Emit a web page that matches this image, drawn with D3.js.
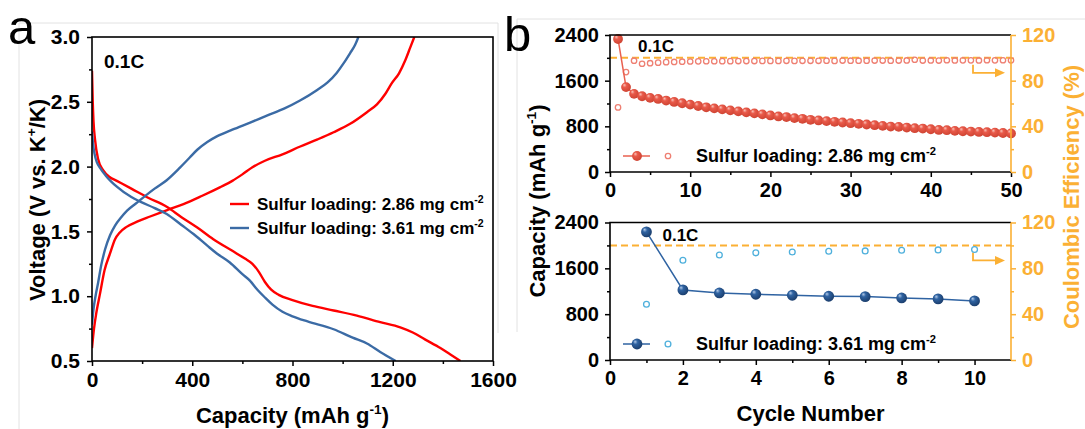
<!DOCTYPE html>
<html>
<head>
<meta charset="utf-8">
<script src="https://cdn.jsdelivr.net/npm/d3@7"></script>
<style>
  html, body { margin: 0; padding: 0; background: #fff; }
  svg { display: block; font-family: Arial, "Liberation Sans", Helvetica, sans-serif; }
</style>
</head>
<body>
<svg id="fig" width="1085" height="429"></svg>
<script>
// ---------- Panel (a): galvanostatic profiles at 0.1C ----------
const capTicksA = [0, 400, 800, 1200, 1600];
const capMinorA = [200, 600, 1000, 1400];
const voltTicks = [0.5, 1.0, 1.5, 2.0, 2.5, 3.0];
const voltMinor = [0.75, 1.25, 1.75, 2.25, 2.75];

// [capacity (mAh/g), voltage (V)]
const dis286 = [[0,2.74],[3,2.5],[6,2.35],[12,2.21],[24,2.06],[45,1.97],[70,1.92],[99,1.89],[157,1.83],[224,1.76],[298,1.69],[357,1.61],[420,1.53],[484,1.44],[560,1.35],[610,1.29],[640,1.25],[665,1.19],[690,1.11],[715,1.05],[745,1.01],[800,0.97],[880,0.925],[964,0.89],[1057,0.85],[1150,0.8],[1230,0.76],[1280,0.72],[1330,0.665],[1390,0.6],[1430,0.55],[1470,0.5]];
const cha286 = [[0,0.6],[8,0.75],[18,0.88],[32,1.02],[50,1.2],[72,1.33],[92,1.44],[110,1.49],[138,1.535],[180,1.575],[232,1.615],[300,1.665],[365,1.71],[440,1.775],[510,1.84],[560,1.89],[600,1.94],[640,1.995],[690,2.045],[760,2.095],[831,2.155],[900,2.21],[964,2.265],[1030,2.33],[1097,2.42],[1137,2.48],[1170,2.56],[1195,2.64],[1225,2.72],[1250,2.82],[1270,2.92],[1286,3.0]];
const dis361 = [[0,2.27],[4,2.18],[10,2.1],[20,2.03],[32,1.99],[55,1.93],[99,1.845],[157,1.765],[192,1.73],[250,1.68],[298,1.635],[357,1.55],[405,1.48],[460,1.39],[498,1.33],[550,1.26],[600,1.17],[630,1.12],[660,1.05],[690,0.99],[720,0.935],[760,0.88],[800,0.845],[860,0.805],[964,0.745],[1040,0.68],[1097,0.635],[1150,0.57],[1212,0.5]];
const cha361 = [[0,0.78],[6,0.9],[14,1.0],[24,1.1],[37,1.24],[52,1.36],[72,1.47],[92,1.545],[115,1.605],[140,1.66],[175,1.715],[210,1.77],[250,1.83],[298,1.895],[350,1.99],[390,2.07],[420,2.13],[460,2.19],[500,2.235],[560,2.285],[631,2.34],[700,2.395],[764,2.445],[830,2.51],[897,2.59],[940,2.65],[977,2.725],[1005,2.8],[1030,2.876],[1050,2.94],[1063,3.0]];

// ---------- Panel (b): cycling at 0.1C ----------
const cycleTicksTop = [0, 10, 20, 30, 40, 50];
const cycleMinorTop = [5, 15, 25, 35, 45];
const cycleTicksBot = [0, 2, 4, 6, 8, 10];
const cycleMinorBot = [1, 3, 5, 7, 9];
const capTicksB = [0, 800, 1600, 2400];
const capMinorB = [400, 1200, 2000];
const ceTicks = [0, 40, 80, 120];
const ceMinor = [20, 60, 100];

const cycles286 = [1,2,3,4,5,6,7,8,9,10,11,12,13,14,15,16,17,18,19,20,21,22,23,24,25,26,27,28,29,30,31,32,33,34,35,36,37,38,39,40,41,42,43,44,45,46,47,48,49,50];
const cap286 = [2330,1487,1369,1327,1298,1280,1251,1227,1204,1180,1156,1133,1115,1097,1080,1062,1044,1027,1009,991,973,962,944,932,914,903,891,879,867,855,844,832,820,808,796,791,779,767,761,749,737,732,720,714,708,702,697,690,683,676];
const ce286 = [56.6,87.5,97.5,94.8,95.3,95.8,96.2,96.4,96.6,96.8,96.9,97.0,97.0,97.1,97.1,97.2,97.2,97.2,97.3,97.3,97.3,97.4,97.3,97.4,97.4,97.4,97.5,97.3,97.6,97.5,97.5,97.5,97.6,97.6,97.5,97.6,97.7,98.3,97.6,97.7,97.6,97.9,97.7,97.8,97.8,97.7,97.9,97.8,97.9,97.8];

const cycles361 = [1,2,3,4,5,6,7,8,9,10];
const cap361 = [2236,1223,1170,1148,1130,1113,1107,1083,1066,1031];
const ce361 = [48.6,87.0,91.7,93.5,94.3,94.9,95.2,95.8,96.1,96.4];

const ceReference = 100;

const FONT = 'Arial, "Liberation Sans", Helvetica, sans-serif';
const ORANGE = "#fbb034";
const svg = d3.select("#fig");
const defs = svg.append("defs");

function sphereGrad(id, light, mid, dark) {
  const g = defs.append("radialGradient").attr("id", id)
    .attr("cx", "42%").attr("cy", "40%").attr("r", "60%")
    .attr("fx", "32%").attr("fy", "28%");
  g.append("stop").attr("offset", "0%").attr("stop-color", light);
  g.append("stop").attr("offset", "35%").attr("stop-color", mid);
  g.append("stop").attr("offset", "100%").attr("stop-color", dark);
}
sphereGrad("sphRed", "#f9c3b9", "#e95a4a", "#cf4433");
sphereGrad("sphBlue", "#b3cae8", "#2f63a2", "#1b3e6d");

function styleAxis(g, size, color) {
  g.attr("font-family", null).attr("font-size", null);
  g.select(".domain").remove();
  g.selectAll(".tick line").attr("stroke", color).attr("stroke-width", 1.5);
  g.selectAll(".tick text").attr("fill", color)
    .style("font-size", size + "px").style("font-weight", "bold").style("font-family", FONT);
}

function rich(sel, parts, fs) {
  parts.forEach(p => {
    const t = sel.append("tspan").text(p.t);
    if (p.sup) t.attr("dy", -fs * 0.4).attr("font-size", fs * 0.62);
    if (p.down) t.attr("dy", fs * 0.4);
  });
  return sel;
}

// light frame lines around the two panels
svg.append("path").attr("d", "M19,429V23H498V333").attr("fill", "none").attr("stroke", "#e2e2e2").attr("stroke-width", 1);
svg.append("path").attr("d", "M517,332V19H1085").attr("fill", "none").attr("stroke", "#e2e2e2").attr("stroke-width", 1);

// ================= Panel (a) =================
const A = { l: 92, r: 493, t: 37, b: 361 };
const xA = d3.scaleLinear().domain([0, 1600]).range([A.l, A.r]);
const yA = d3.scaleLinear().domain([0.5, 3.0]).range([A.b, A.t]);
const gA = svg.append("g");

defs.append("clipPath").attr("id", "clipA").append("rect")
  .attr("x", A.l).attr("y", A.t).attr("width", A.r - A.l).attr("height", A.b - A.t);

gA.append("g").attr("transform", `translate(0,${A.b})`)
  .call(d3.axisBottom(xA).tickValues(capMinorA).tickSize(3).tickFormat(""))
  .call(g => styleAxis(g, 21, "#000"));
gA.append("g").attr("transform", `translate(0,${A.b})`)
  .call(d3.axisBottom(xA).tickValues(capTicksA).tickSize(5).tickPadding(6).tickFormat(d3.format("d")))
  .call(g => styleAxis(g, 21, "#000"));
gA.append("g").attr("transform", `translate(${A.l},0)`)
  .call(d3.axisLeft(yA).tickValues(voltMinor).tickSize(3).tickFormat(""))
  .call(g => styleAxis(g, 21, "#000"));
gA.append("g").attr("transform", `translate(${A.l},0)`)
  .call(d3.axisLeft(yA).tickValues(voltTicks).tickSize(5).tickPadding(7).tickFormat(d3.format(".1f")))
  .call(g => styleAxis(g, 21, "#000"));

const lineA = d3.line().x(d => xA(d[0])).y(d => yA(d[1])).curve(d3.curveMonotoneX);
const curvesA = [
  { data: dis286, color: "#ff0000" },
  { data: cha286, color: "#ff0000" },
  { data: dis361, color: "#3b6ba5" },
  { data: cha361, color: "#3b6ba5" }
];
gA.append("g").attr("clip-path", "url(#clipA)")
  .selectAll("path").data(curvesA).join("path")
  .attr("d", d => lineA(d.data)).attr("fill", "none")
  .attr("stroke", d => d.color).attr("stroke-width", 2.4).attr("stroke-linejoin", "round");

gA.append("rect").attr("x", A.l).attr("y", A.t).attr("width", A.r - A.l).attr("height", A.b - A.t)
  .attr("fill", "none").attr("stroke", "#000").attr("stroke-width", 1.6);

gA.append("text").attr("x", A.l + 12).attr("y", A.t + 31).attr("font-size", 19).attr("font-weight", "bold").text("0.1C");

const legA = [
  { color: "#ff0000", load: "2.86" },
  { color: "#3b6ba5", load: "3.61" }
];
legA.forEach((d, i) => {
  const y = 204 + i * 24;
  gA.append("line").attr("x1", 230).attr("x2", 249).attr("y1", y).attr("y2", y)
    .attr("stroke", d.color).attr("stroke-width", 2.4);
  rich(gA.append("text").attr("x", 257).attr("y", y + 6).attr("font-size", 17).attr("font-weight", "bold"),
    [{ t: `Sulfur loading: ${d.load} mg cm` }, { t: "-2", sup: true }], 17);
});

rich(gA.append("text").attr("transform", "translate(37,200) rotate(-90)").attr("text-anchor", "middle")
  .attr("dy", "0.35em").attr("font-size", 22).attr("font-weight", "bold"),
  [{ t: "Voltage (V vs. K" }, { t: "+", sup: true }, { t: "/K)", down: true }], 22);
rich(gA.append("text").attr("x", (A.l + A.r) / 2).attr("y", 423).attr("text-anchor", "middle")
  .attr("font-size", 22).attr("font-weight", "bold"),
  [{ t: "Capacity (mAh g" }, { t: "-1", sup: true }, { t: ")", down: true }], 22);

svg.append("text").attr("x", 8).attr("y", 44).attr("font-size", 49).text("a");
svg.append("text").attr("x", 504).attr("y", 51).attr("font-size", 49).text("b");

// ================= Panel (b) =================
const B = { l: 610, r: 1011 };

function drawCycling(cfg) {
  const g = svg.append("g");
  const x = d3.scaleLinear().domain(cfg.xDomain).range([B.l, B.r]);
  const yCap = d3.scaleLinear().domain([0, 2400]).range([cfg.b, cfg.t]);
  const yCE = d3.scaleLinear().domain([0, 120]).range([cfg.b, cfg.t]);

  g.append("g").attr("transform", `translate(0,${cfg.b})`)
    .call(d3.axisBottom(x).tickValues(cfg.xMinor).tickSize(3).tickFormat(""))
    .call(s => styleAxis(s, 20, "#000"));
  g.append("g").attr("transform", `translate(0,${cfg.b})`)
    .call(d3.axisBottom(x).tickValues(cfg.xTicks).tickSize(5).tickPadding(6).tickFormat(d3.format("d")))
    .call(s => styleAxis(s, 20, "#000"));
  g.append("g").attr("transform", `translate(${B.l},0)`)
    .call(d3.axisLeft(yCap).tickValues(capMinorB).tickSize(3).tickFormat(""))
    .call(s => styleAxis(s, 20, "#000"));
  g.append("g").attr("transform", `translate(${B.l},0)`)
    .call(d3.axisLeft(yCap).tickValues(capTicksB).tickSize(5).tickPadding(6).tickFormat(d3.format("d")))
    .call(s => styleAxis(s, 20, "#000"));
  g.append("g").attr("transform", `translate(${B.r},0)`)
    .call(d3.axisRight(yCE).tickValues(ceMinor).tickSize(3).tickFormat(""))
    .call(s => styleAxis(s, 20, ORANGE));
  g.append("g").attr("transform", `translate(${B.r},0)`)
    .call(d3.axisRight(yCE).tickValues(ceTicks).tickSize(5).tickPadding(6).tickFormat(d3.format("d")))
    .call(s => styleAxis(s, 20, ORANGE));

  // 100 % reference line and arrow pointing to the efficiency axis
  const yRef = yCE(ceReference);
  g.append("line").attr("x1", B.l).attr("x2", B.r).attr("y1", yRef).attr("y2", yRef)
    .attr("stroke", ORANGE).attr("stroke-width", 2).attr("stroke-dasharray", "7,4");
  g.append("path").attr("d", `M${B.r - 38},${yRef + 7}V${yRef + 15}H${B.r - 14}`)
    .attr("fill", "none").attr("stroke", ORANGE).attr("stroke-width", 1.8);
  g.append("path").attr("d", `M${B.r - 16},${yRef + 10.5}L${B.r - 6},${yRef + 15}L${B.r - 16},${yRef + 19.5}Z`)
    .attr("fill", ORANGE);

  // coulombic efficiency
  g.append("g").selectAll("circle").data(cfg.cycles).join("circle")
    .attr("cx", (d) => x(d)).attr("cy", (d, i) => yCE(cfg.ce[i]))
    .attr("r", cfg.rOpen).attr("fill", "none").attr("stroke", cfg.ceColor).attr("stroke-width", 1.3);

  // capacity
  const line = d3.line().x((d) => x(d)).y((d, i) => yCap(cfg.cap[i]));
  g.append("path").attr("d", line(cfg.cycles)).attr("fill", "none")
    .attr("stroke", cfg.lineColor).attr("stroke-width", 1.5);
  g.append("g").selectAll("circle").data(cfg.cycles).join("circle")
    .attr("cx", (d) => x(d)).attr("cy", (d, i) => yCap(cfg.cap[i]))
    .attr("r", cfg.rFill).attr("fill", `url(#${cfg.grad})`);

  // frame
  g.append("path").attr("d", `M${B.r},${cfg.t}H${B.l}V${cfg.b}H${B.r}`)
    .attr("fill", "none").attr("stroke", "#000").attr("stroke-width", 1.6);
  g.append("line").attr("x1", B.r).attr("x2", B.r).attr("y1", cfg.t).attr("y2", cfg.b)
    .attr("stroke", ORANGE).attr("stroke-width", 1.6);

  // rate label
  g.append("text").attr("x", x(cfg.cycles[0]) + cfg.rateDx).attr("y", cfg.t + cfg.rateDy)
    .attr("font-size", 17).attr("font-weight", "bold").text("0.1C");

  // legend
  const ly = cfg.b - 16;
  g.append("line").attr("x1", B.l + 13).attr("x2", B.l + 40).attr("y1", ly).attr("y2", ly)
    .attr("stroke", cfg.lineColor).attr("stroke-width", 1.5);
  g.append("circle").attr("cx", B.l + 27).attr("cy", ly).attr("r", cfg.rFill).attr("fill", `url(#${cfg.grad})`);
  g.append("circle").attr("cx", B.l + 58).attr("cy", ly).attr("r", cfg.rOpen)
    .attr("fill", "none").attr("stroke", cfg.ceColor).attr("stroke-width", 1.3);
  rich(g.append("text").attr("x", B.l + 86).attr("y", ly + 6).attr("font-size", 18).attr("font-weight", "bold"),
    [{ t: `Sulfur loading: ${cfg.load} mg cm` }, { t: "-2", sup: true }], 18);
}

drawCycling({
  t: 35, b: 172, xDomain: [0, 50], xTicks: cycleTicksTop, xMinor: cycleMinorTop,
  cycles: cycles286, cap: cap286, ce: ce286, load: "2.86",
  grad: "sphRed", lineColor: "#e9604f", ceColor: "#ee7f72", rFill: 4.9, rOpen: 2.7,
  rateDx: 20, rateDy: 17
});
drawCycling({
  t: 222.5, b: 360, xDomain: [0, 11], xTicks: cycleTicksBot, xMinor: cycleMinorBot,
  cycles: cycles361, cap: cap361, ce: ce361, load: "3.61",
  grad: "sphBlue", lineColor: "#2f63a2", ceColor: "#4fb0dc", rFill: 5.4, rOpen: 2.9,
  rateDx: 16, rateDy: 18
});

rich(svg.append("text").attr("transform", "translate(537,201) rotate(-90)").attr("text-anchor", "middle")
  .attr("dy", "0.35em").attr("font-size", 22).attr("font-weight", "bold"),
  [{ t: "Capacity (mAh g" }, { t: "-1", sup: true }, { t: ")", down: true }], 22);
svg.append("text").attr("transform", "translate(1071,197) rotate(-90)").attr("text-anchor", "middle")
  .attr("dy", "0.35em").attr("font-size", 22).attr("font-weight", "bold").attr("fill", ORANGE)
  .text("Coulombic Efficiency (%)");
svg.append("text").attr("x", (B.l + B.r) / 2).attr("y", 421).attr("text-anchor", "middle")
  .attr("font-size", 22).attr("font-weight", "bold").text("Cycle Number");
</script>
</body>
</html>
